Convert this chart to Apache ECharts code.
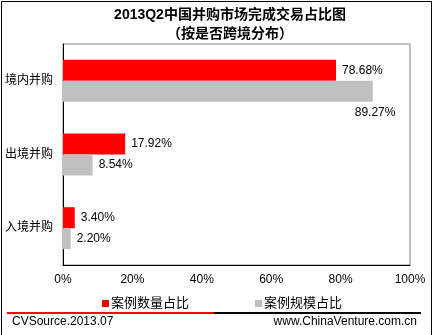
<!DOCTYPE html>
<html>
<head>
<meta charset="utf-8">
<script src="https://cdn.jsdelivr.net/npm/echarts@6/dist/echarts.min.js"></script>
<style>
html,body{margin:0;padding:0;background:#fff;}
#c{width:435px;height:335px;}
</style>
</head>
<body>
<div id="c"></div>
<script>
var categories = ['境内并购', '出境并购', '入境并购'];
var countShare = [78.68, 17.92, 3.40];
var scaleShare = [89.27, 8.54, 2.20];
var seriesNames = ['案例数量占比', '案例规模占比'];
var titleText = '2013Q2中国并购市场完成交易占比图\n（按是否跨境分布）';
var sourceText = 'CVSource.2013.07';
var siteText = 'www.ChinaVenture.com.cn';

var FONT = '"Liberation Sans", Arial, "Noto Sans CJK SC", sans-serif';
var chart = echarts.init(document.getElementById('c'), null, {renderer: 'canvas'});

var baseLabel = {
  show: true,
  position: 'right',
  distance: 6,
  color: '#000',
  fontSize: 12,
  fontFamily: FONT,
  formatter: function (p) { return p.value.toFixed(2) + '%'; }
};

var scaleData = scaleShare.map(function (v, i) {
  if (i === 0) {
    return {value: v, label: {offset: [-24, 21]}};
  }
  return v;
});

chart.setOption({
  animation: false,
  backgroundColor: '#fff',
  textStyle: {fontFamily: FONT},
  graphic: [
    {type: 'rect', shape: {x: 1.5, y: 1.5, width: 430, height: 345}, style: {fill: null, stroke: '#000', lineWidth: 1}, silent: true},
    {type: 'text', x: 230, y: 6, style: {text: titleText, align: 'center', fontSize: 14, fontWeight: 'bold', fill: '#000', lineHeight: 19, fontFamily: FONT}},
    {type: 'line', shape: {x1: 7, y1: 313, x2: 214, y2: 313}, style: {stroke: '#ff0000', lineWidth: 2}, silent: true},
    {type: 'line', shape: {x1: 214, y1: 313, x2: 421, y2: 313}, style: {stroke: '#000', lineWidth: 2}, silent: true},
    {type: 'text', left: 12, top: 316, style: {text: sourceText, fontSize: 12, fill: '#000', fontFamily: FONT}},
    {type: 'text', right: 18, top: 316, style: {text: siteText, fontSize: 12, fill: '#000', fontFamily: FONT}}
  ],
  legend: {
    left: 97,
    top: 292,
    icon: 'rect',
    itemWidth: 7,
    itemHeight: 7,
    itemGap: 66,
    textStyle: {fontSize: 13, color: '#000', fontFamily: FONT, padding: [0, 0, 0, -3]},
    data: seriesNames
  },
  grid: {
    left: 63, right: 25, top: 44, bottom: 70,
    show: true, borderColor: '#808080', borderWidth: 1, containLabel: false
  },
  xAxis: {
    type: 'value',
    min: 0, max: 100, interval: 20,
    axisLine: {show: true, lineStyle: {color: '#000', width: 1}},
    axisTick: {show: false},
    splitLine: {show: false},
    axisLabel: {formatter: '{value}%', color: '#000', fontSize: 12, margin: 9, fontFamily: FONT}
  },
  yAxis: {
    type: 'category',
    inverse: true,
    data: categories,
    axisLine: {show: true, lineStyle: {color: '#000', width: 1}},
    axisTick: {show: false},
    axisLabel: {color: '#000', fontSize: 12, margin: 10, fontFamily: FONT}
  },
  series: [
    {
      name: seriesNames[0],
      type: 'bar',
      data: countShare,
      barWidth: 21,
      barGap: '0%',
      itemStyle: {color: '#ff0000'},
      label: baseLabel
    },
    {
      name: seriesNames[1],
      type: 'bar',
      data: scaleData,
      barWidth: 21,
      barGap: '0%',
      itemStyle: {color: '#c0c0c0'},
      label: baseLabel
    }
  ]
});
</script>
</body>
</html>
